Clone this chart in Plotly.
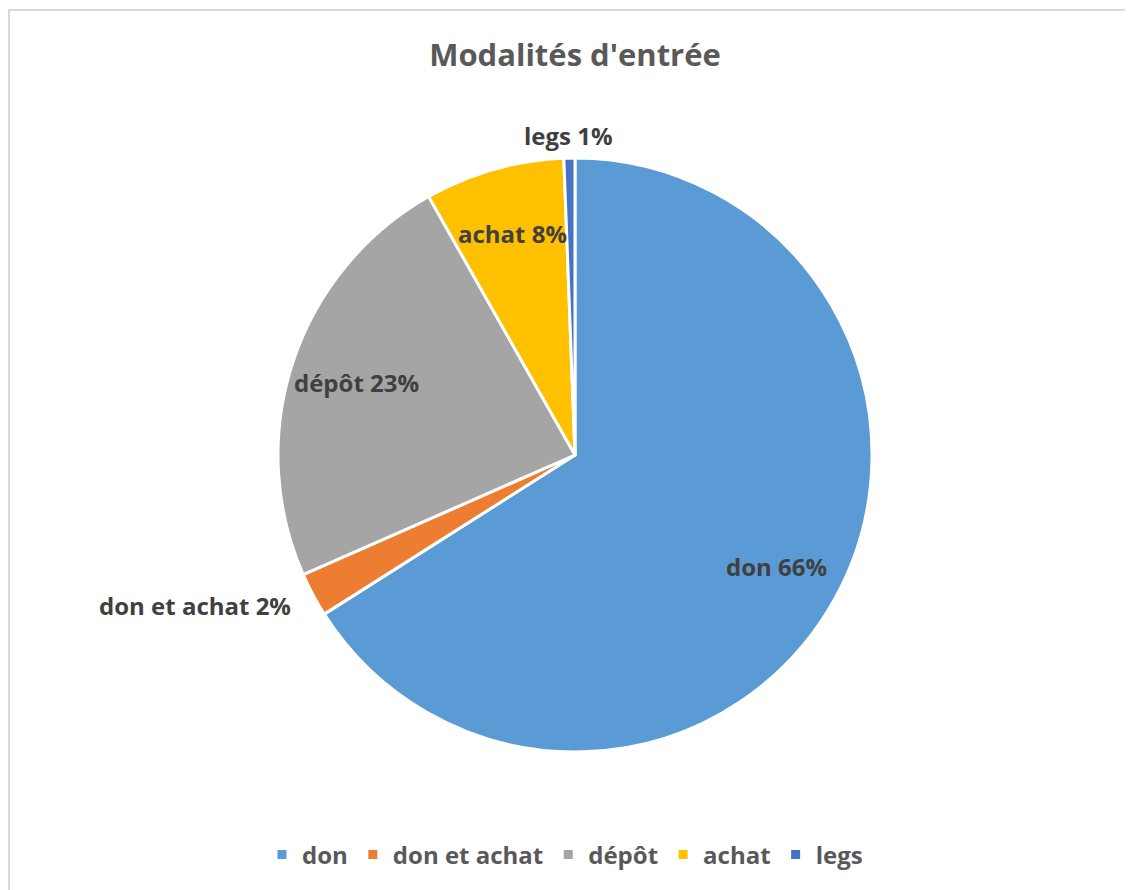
import math
import plotly.graph_objects as go

labels = ["don", "don et achat", "dépôt", "achat", "legs"]
values = [66.0, 2.4, 23.4, 7.6, 0.6]
colors = ["#5B9BD5", "#ED7D31", "#A5A5A5", "#FFC000", "#4472C4"]
inside = [True, False, True, True, False]

# page body has an 8px margin, so the figure is offset by 8px
OFF = 8
W, H = 1133 - OFF, 890 - OFF
L, T, SIDE = 278 - OFF, 158 - OFF, 594
R, B = W - L - SIDE, H - T - SIDE
IN_R, OUT_R = 0.78, 1.08  # label radius as fraction of pie radius (Excel-like placement)

def px(x):
    return (x - OFF - L) / SIDE

def py(y):
    return (T + SIDE - (y - OFF)) / SIDE

label_font = dict(family="Open Sans", size=24, color="#404040", weight="bold")

fig = go.Figure(go.Pie(
    labels=labels, values=values, sort=False, direction="clockwise", rotation=0,
    marker=dict(colors=colors, line=dict(color="white", width=3)),
    textposition="none",
    hoverinfo="label+percent",
))

# data labels placed at each slice's mid-angle, computed from the data
total = sum(values)
cum = 0.0
annotations = []
for lab, v, ins in zip(labels, values, inside):
    mid = (cum + v / 2) / total * 2 * math.pi
    cum += v
    f = IN_R if ins else OUT_R
    s, c = math.sin(mid), math.cos(mid)
    if ins or abs(s) < 0.3:
        xa = "center"
    else:
        xa = "left" if s > 0 else "right"
    annotations.append(dict(
        x=0.5 + f * 0.4975 * s, y=0.5 + f * 0.4975 * c,
        xref="paper", yref="paper", showarrow=False,
        text=f"{lab} {round(v / total * 100)}%", font=label_font,
        xanchor=xa, yanchor="middle"))

fig.update_layout(
    width=W, height=H,
    margin=dict(l=L, r=R, t=T, b=B),
    paper_bgcolor="white",
    title=dict(text="<b>Modalités d'entrée</b>", x=0.5, xref="paper", xanchor="center",
               y=1 - (55 - OFF) / H, yref="container", yanchor="middle",
               font=dict(family="Open Sans", size=31, color="#595959")),
    legend=dict(orientation="h", x=px(262), xref="paper", xanchor="left",
                y=py(855), yref="paper", yanchor="middle",
                font=dict(family="Open Sans", size=24, color="#595959", weight="bold"),
                itemwidth=30, traceorder="normal"),
    annotations=annotations,
    shapes=[dict(type="rect", xref="paper", yref="paper",
                 x0=px(OFF + 1), x1=px(1145), y0=py(10), y1=py(900),
                 line=dict(color="#D9D9D9", width=2), fillcolor="rgba(0,0,0,0)", layer="below")],
)

fig.write_html("out.html")
